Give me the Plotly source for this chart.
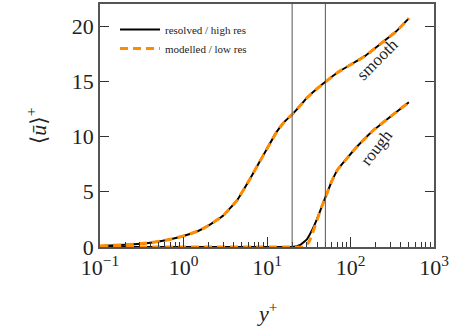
import plotly.graph_objects as go

# ---- data ----
y_smooth = [0.1, 0.2, 0.4, 0.7, 1.0, 1.5, 2.0, 3.0, 4.4, 6.3, 8.0, 10.0, 13.0, 16.0, 20.0, 25.0, 30.0, 40.0, 51.0, 70.0, 100.0, 150.0, 230.0, 350.0, 500.0]
u_smooth = [0.10, 0.20, 0.38, 0.70, 1.00, 1.45, 1.95, 2.85, 4.25, 6.2, 7.6, 8.9, 10.4, 11.3, 12.0, 12.8, 13.5, 14.35, 15.0, 15.8, 16.5, 17.3, 18.4, 19.5, 20.7]

y_rough_res = [0.1, 1.0, 10.0, 20.0, 25.0, 30.0, 35.0, 40.0, 45.0, 50.0, 60.0, 70.0, 90.0, 120.0, 190.0, 300.0, 500.0]
u_rough_res = [0.0, 0.0, 0.0, 0.0, 0.2, 0.7, 1.6, 2.6, 3.6, 4.5, 6.0, 7.0, 8.0, 9.1, 10.6, 11.8, 13.1]

y_rough_mod = [0.1, 1.0, 10.0, 20.0, 28.0, 32.0, 36.0, 40.0, 45.0, 50.0, 60.0, 70.0, 90.0, 120.0, 190.0, 300.0, 500.0]
u_rough_mod = [0.0, 0.0, 0.0, 0.0, 0.0, 0.5, 1.5, 2.5, 3.6, 4.5, 6.0, 7.0, 8.0, 9.1, 10.6, 11.8, 13.1]

k_bar = 20.0
k_max = 50.0

x_tickvals = [0.1, 1, 10, 100, 1000]
x_ticktext = ["10<sup>−1</sup>", "10<sup>0</sup>", "10<sup>1</sup>", "10<sup>2</sup>", "10<sup>3</sup>"]
y_tickvals = [0, 5, 10, 15, 20]

BLACK = "#000000"
ORANGE = "#FF8C00"
SERIF = "Liberation Serif, DejaVu Serif, serif"

fig = go.Figure()

LS = dict(shape="spline", smoothing=0.3)
# resolved (black solid)
fig.add_trace(go.Scatter(x=y_rough_res, y=u_rough_res, mode="lines", line=dict(color=BLACK, width=2, **LS), showlegend=False))
fig.add_trace(go.Scatter(x=y_smooth, y=u_smooth, mode="lines", line=dict(color=BLACK, width=2, **LS), name="resolved / high res"))
# modelled (orange dashed)
fig.add_trace(go.Scatter(x=y_rough_mod, y=u_rough_mod, mode="lines", line=dict(color=ORANGE, width=3, dash="8px,5px", **LS), showlegend=False))
fig.add_trace(go.Scatter(x=y_smooth, y=u_smooth, mode="lines", line=dict(color=ORANGE, width=3, dash="8px,5px", **LS), name="modelled / low res"))

# vertical reference lines
for k in (k_bar, k_max):
    fig.add_shape(type="line", xref="x", yref="paper", x0=k, x1=k, y0=0, y1=1, line=dict(color="#555555", width=1))

fig.add_annotation(x=k_bar, y=1, xref="x", yref="paper", text="<i>k̄</i>", showarrow=False, xanchor="left", yanchor="top", xshift=2, yshift=-5, font=dict(family=SERIF, size=14, color="#222"))
fig.add_annotation(x=k_max, y=1, xref="x", yref="paper", text="<i>k</i><sub>max</sub>", showarrow=False, xanchor="left", yanchor="top", xshift=1, yshift=-5, font=dict(family=SERIF, size=14, color="#222"))

fig.add_annotation(x=2.32, y=17.0, xref="x", yref="y", text="smooth", showarrow=False, textangle=-45, font=dict(family=SERIF, size=17, color="#222"))
fig.add_annotation(x=2.31, y=9.05, xref="x", yref="y", text="rough", showarrow=False, textangle=-52, font=dict(family=SERIF, size=17, color="#222"))

# axis titles
fig.add_annotation(x=0.5, y=-0.2, xref="paper", yref="paper", text="<i>y</i><sup>+</sup>", showarrow=False, yanchor="top", font=dict(family=SERIF, size=22, color="#222"))
fig.add_annotation(x=-0.24, y=0.5, xref="paper", yref="paper", text="⟨<i>ū</i>⟩<sup>+</sup>", showarrow=False, textangle=-90, font=dict(family=SERIF, size=22, color="#222"))

fig.update_layout(
    width=458, height=327,
    margin=dict(l=100, r=24, t=4, b=80),
    paper_bgcolor="white", plot_bgcolor="white",
    font=dict(family=SERIF, color="#222"),
    legend=dict(x=0.045, y=0.955, xanchor="left", yanchor="top", bgcolor="rgba(0,0,0,0)",
                font=dict(family=SERIF, size=11, color="#222"), itemwidth=40, tracegroupgap=4),
)

fig.update_xaxes(
    type="log", range=[-1, 3], automargin=False,
    tickvals=x_tickvals, ticktext=x_ticktext,
    ticks="inside", ticklen=10, tickcolor="#333", tickwidth=1,
    showline=True, linecolor="#555", linewidth=1.5, mirror=True,
    showgrid=False, zeroline=False,
    tickfont=dict(family=SERIF, size=22, color="#222"),
    minor=dict(ticks="inside", ticklen=5, tickcolor="#333", dtick="D1", showgrid=False),
)
fig.update_yaxes(
    range=[0, 22], automargin=False,
    tickvals=y_tickvals,
    ticks="inside", ticklen=9, tickcolor="#333", tickwidth=1,
    showline=True, linecolor="#555", linewidth=1.5, mirror="allticks",
    showgrid=False, zeroline=False,
    tickfont=dict(family=SERIF, size=22, color="#222"),
)

fig.write_html("out.html", config={"displayModeBar": False},
               post_script="document.body.style.margin='0';document.body.style.overflow='hidden';")
